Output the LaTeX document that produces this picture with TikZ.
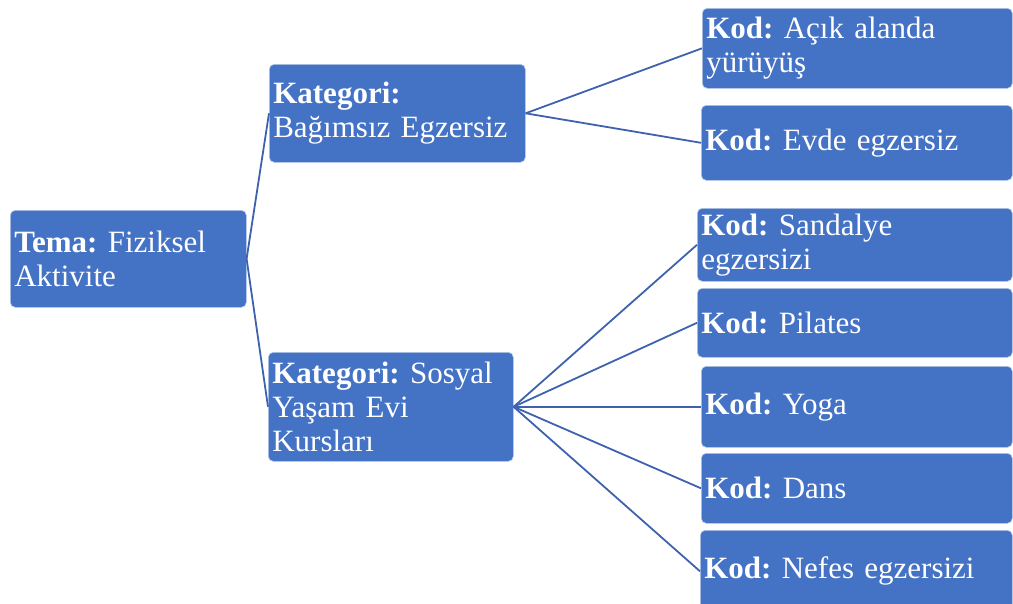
\documentclass[tikz,border=0pt]{standalone}
\usepackage{fontspec}
\setmainfont{Liberation Serif}
\definecolor{boxblue}{HTML}{4472C4}
\definecolor{boxedge}{HTML}{B4C7E7}
\definecolor{linkblue}{HTML}{3F62AE}
\frenchspacing

\begin{document}
\begin{tikzpicture}[x=1pt, y=-1pt,
    box/.style = {draw=boxedge, line width=0.6pt, fill=boxblue, rounded corners=5pt, text=white, align=left, anchor=north west, inner xsep=4pt, inner ysep=0pt, font=\fontsize{31}{34}\selectfont},
    link/.style = {draw=linkblue, line width=1.8pt}]
                \useasboundingbox (0,0) rectangle (1013,603);

                \node[box, minimum width=236pt, text width=228pt, minimum height=97pt] at (10, 210) (tema) {\textbf{Tema:} Fiziksel\\Aktivite};
                \node[box, minimum width=256pt, text width=248pt, minimum height=98pt] at (269, 64) (kat1) {\textbf{Kategori:}\\Bağımsız Egzersiz};
                \node[box, minimum width=245pt, text width=237pt, minimum height=109pt] at (268, 352) (kat2) {\textbf{Kategori:} Sosyal\\Yaşam Evi\\Kursları};

                \node[box, minimum width=310pt, text width=302pt, minimum height=80pt] at (702, 8) (kod1) {\textbf{Kod:} Açık alanda\\yürüyüş};
                \node[box, minimum width=311pt, text width=303pt, minimum height=75pt] at (701, 105) (kod2) {\textbf{Kod:} Evde egzersiz};
                \node[box, minimum width=315pt, text width=307pt, minimum height=73pt] at (697, 208) (kod3) {\textbf{Kod:} Sandalye\\egzersizi};
                \node[box, minimum width=315pt, text width=307pt, minimum height=69pt] at (697, 288) (kod4) {\textbf{Kod:} Pilates};
                \node[box, minimum width=311pt, text width=303pt, minimum height=81pt] at (701, 366) (kod5) {\textbf{Kod:} Yoga};
                \node[box, minimum width=311pt, text width=303pt, minimum height=70pt] at (701, 453) (kod6) {\textbf{Kod:} Dans};
                \node[box, minimum width=312pt, text width=304pt, minimum height=82pt] at (700, 530) (kod7) {\textbf{Kod:} Nefes egzersizi};

                \draw[link] (tema.east) -- (kat1.west);
                \draw[link] (tema.east) -- (kat2.west);

                \draw[link] (kat1.east) -- (kod1.west);
                \draw[link] (kat1.east) -- (kod2.west);

                \draw[link] (kat2.east) -- (kod3.west);
                \draw[link] (kat2.east) -- (kod4.west);
                \draw[link] (kat2.east) -- (kod5.west);
                \draw[link] (kat2.east) -- (kod6.west);
                \draw[link] (kat2.east) -- (kod7.west);
            \end{tikzpicture}
\end{document}
